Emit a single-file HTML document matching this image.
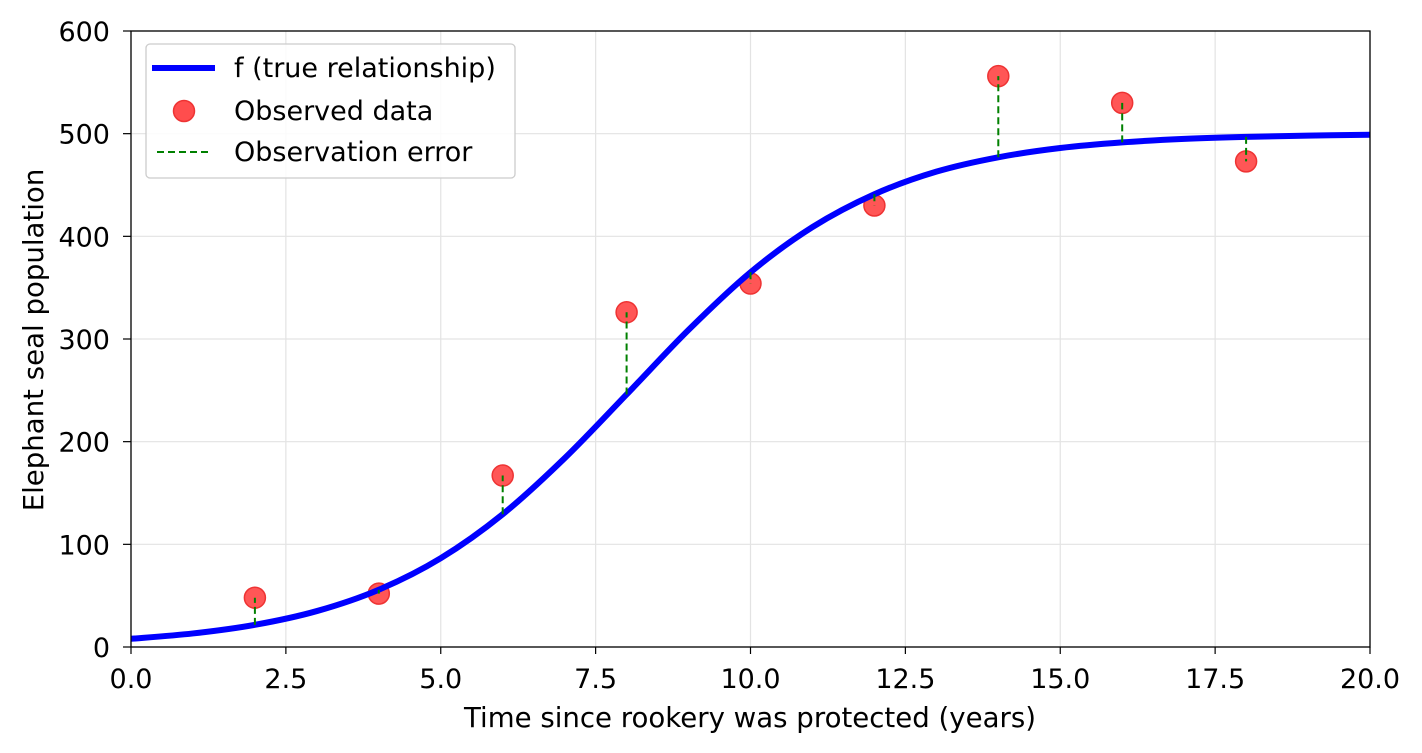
<!DOCTYPE html>
<html><head><meta charset="utf-8"><style>
html,body{margin:0;padding:0;background:#fff;}
svg{display:block;font-family:"DejaVu Sans","Liberation Sans",sans-serif;}
</style></head><body>
<svg id="chart" width="1422" height="753" viewBox="0 0 1422 753">
<g id="grid"></g>
<g id="marks"></g>
<rect x="131" y="31" width="1239" height="616" fill="none" stroke="#000" stroke-width="1.3"/>
<g id="ticks"></g>
<text x="750" y="727" font-size="27.6" text-anchor="middle">Time since rookery was protected (years)</text>
<text transform="translate(43,340) rotate(-90)" font-size="27.6" text-anchor="middle">Elephant seal population</text>
<g>
<rect x="146" y="44" width="369" height="134" rx="4" fill="#fff" fill-opacity="0.85" stroke="#ccc" stroke-width="1.3"/>
<line x1="152" y1="68" x2="215" y2="68" stroke="#0000ff" stroke-width="6"/>
<text x="234" y="77" font-size="27">f (true relationship)</text>
<circle cx="184" cy="111" r="10.5" fill="#ff4d4d" stroke="#e33" stroke-width="1.5"/>
<text x="234" y="120" font-size="27">Observed data</text>
<line x1="157" y1="152" x2="212" y2="152" stroke="green" stroke-width="2" stroke-dasharray="7,4"/>
<text x="234" y="161" font-size="27">Observation error</text>
</g>
</svg>
<script>
const curveT = [0,1,2,3,4,5,6,7,8,9,10,11,12,13,14,15,16,17,18,19,20];
const curveVals = [8,13.2,21.6,35,55.8,86.5,129.3,183.9,246,308.9,365,409,441,463,477,486,491.5,494.9,496.9,498.1,498.9];
const obsT = [2,4,6,8,10,12,14,16,18];
const obsVals = [48,52,167,326,354,430,556,530,473];
const trueAtObs = [21.6,55.8,129.3,246,365,441,477,491.5,496.9];
const xTicks = ["0.0","2.5","5.0","7.5","10.0","12.5","15.0","17.5","20.0"];
const yTicks = [0,100,200,300,400,500,600];
const NS="http://www.w3.org/2000/svg";
const X=v=>131+v/20*1239, Y=v=>647-v/600*616;
const mk=(t,a,p)=>{const e=document.createElementNS(NS,t);for(const k in a)e.setAttribute(k,a[k]);p.appendChild(e);return e;};
const grid=document.getElementById('grid'),ticks=document.getElementById('ticks'),marks=document.getElementById('marks');
xTicks.forEach(s=>{const v=parseFloat(s),x=X(v);
 const g=mk('line',{x1:x,x2:x,y1:31,y2:647,stroke:'#e3e3e3','stroke-width':1.2},grid);
 
 const t=mk('line',{x1:x,x2:x,y1:647,y2:654,stroke:'#000','stroke-width':1.2},ticks);
 
 const l=mk('text',{x:x,y:688,'font-size':27,'text-anchor':'middle'},ticks);l.textContent=s;
 });
yTicks.forEach(v=>{const y=Y(v);
 const g=mk('line',{x1:131,x2:1370,y1:y,y2:y,stroke:'#e3e3e3','stroke-width':1.2},grid);
 
 const t=mk('line',{x1:123,x2:131,y1:y,y2:y,stroke:'#000','stroke-width':1.2},ticks);
 
 const l=mk('text',{x:110,y:y+10,'font-size':27,'text-anchor':'end'},ticks);l.textContent=v;
 });
obsT.forEach((t,i)=>{const p=mk('circle',{cx:X(t),cy:Y(obsVals[i]),r:10.5,fill:'#ff4d4d','fill-opacity':0.95,stroke:'#e33','stroke-width':1.5},marks);
 });
const P=curveT.map((t,i)=>[X(t),Y(curveVals[i])]);
let d=`M${P[0][0]},${P[0][1]}`;
for(let i=0;i<P.length-1;i++){const p0=P[Math.max(i-1,0)],p1=P[i],p2=P[i+1],p3=P[Math.min(i+2,P.length-1)];
 d+=` C${p1[0]+(p2[0]-p0[0])/6},${p1[1]+(p2[1]-p0[1])/6} ${p2[0]-(p3[0]-p1[0])/6},${p2[1]-(p3[1]-p1[1])/6} ${p2[0]},${p2[1]}`;}
const c=mk('path',{d:d,fill:'none',stroke:'#0000ff','stroke-width':6},marks);

obsT.forEach((t,i)=>{const e=mk('line',{x1:X(t),x2:X(t),y1:Y(trueAtObs[i]),y2:Y(obsVals[i]),stroke:'green','stroke-width':2,'stroke-dasharray':'7,4'},marks);
 });
</script>
</body></html>
